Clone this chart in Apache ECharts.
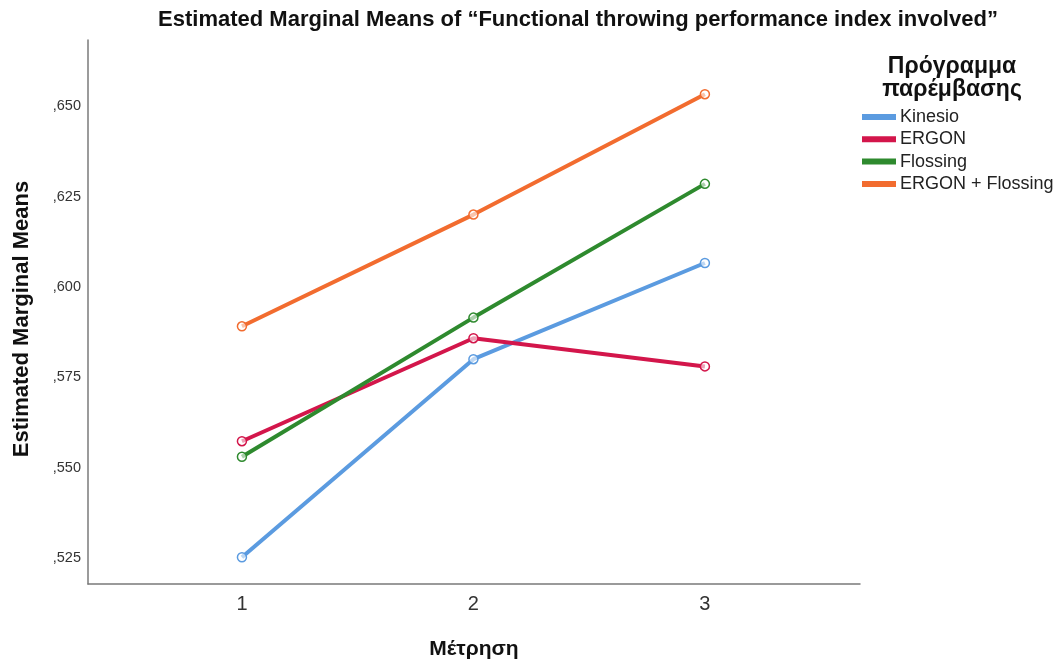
<!DOCTYPE html>
<html>
<head>
<meta charset="utf-8">
<script src="https://cdn.jsdelivr.net/npm/echarts@6/dist/echarts.min.js"></script>
<style>
  html, body { margin: 0; padding: 0; background: #fff; }
  #chart { width: 1056px; height: 664px; }
</style>
</head>
<body>
<div id="chart"></div>
<script>
// Measurement occasions (Μέτρηση)
const occasions = [1, 2, 3];
// Estimated marginal means per intervention programme
const kinesio = [0.5252, 0.5800, 0.6066];
const ergon = [0.5573, 0.5858, 0.5780];
const flossing = [0.5530, 0.5915, 0.6285];
const ergonFlossing = [0.5891, 0.6200, 0.6533];
// Y tick values
const yTicks = [0.525, 0.550, 0.575, 0.600, 0.625, 0.650];

const seriesNames = ['Kinesio', 'ERGON', 'Flossing', 'ERGON + Flossing'];
const seriesValues = [kinesio, ergon, flossing, ergonFlossing];
const colors = ['#5b9be0', '#d3164b', '#2e8a2e', '#f26c2f'];

const font = 'Liberation Sans, Arial, sans-serif';
const chart = echarts.init(document.getElementById('chart'));

chart.setOption({
  animation: false,
  backgroundColor: '#ffffff',
  title: [
    {
      text: 'Estimated Marginal Means of \u201cFunctional throwing performance index involved\u201d',
      left: 578, top: 9, textAlign: 'center', padding: 0,
      textStyle: { fontFamily: font, fontSize: 22, fontWeight: 'bold', color: '#111' }
    },
    {
      text: 'Πρόγραμμα\nπαρέμβασης',
      left: 952, top: 55, textAlign: 'center', padding: 0,
      textStyle: { fontFamily: font, fontSize: 23, fontWeight: 'bold', color: '#111', lineHeight: 23 }
    }
  ],
  legend: {
    orient: 'vertical',
    left: 862, top: 108, padding: 0,
    itemWidth: 32, itemHeight: 4, itemGap: 4.3,
    icon: 'rect',
    data: seriesNames.map((n, i) => ({ name: n, icon: 'rect', itemStyle: { color: colors[i] } })),
    textStyle: { fontFamily: font, fontSize: 18, lineHeight: 18, color: '#222' }
  },
  grid: { left: 88, right: 196, top: 40, bottom: 80, outerBoundsMode: 'none', containLabel: false },
  xAxis: {
    type: 'value',
    min: 0.335, max: 3.67,
    name: 'Μέτρηση',
    nameLocation: 'middle',
    nameGap: 55,
    nameTextStyle: { fontFamily: font, fontSize: 21, fontWeight: 'bold', color: '#111' },
    axisLine: { show: true, lineStyle: { color: '#7a7a7a', width: 1.5 } },
    axisTick: { show: false },
    splitLine: { show: false },
    axisLabel: {
      customValues: occasions,
      fontFamily: font, fontSize: 20, color: '#333', margin: 10,
      formatter: v => String(Math.round(v))
    }
  },
  yAxis: {
    type: 'value',
    min: 0.5178, max: 0.6683,
    name: 'Estimated Marginal Means',
    nameLocation: 'middle',
    nameGap: 55,
    nameTextStyle: { fontFamily: font, fontSize: 22, fontWeight: 'bold', color: '#111', padding: [0, 14, 0, 0] },
    axisLine: { show: true, lineStyle: { color: '#7a7a7a', width: 1.5 } },
    axisTick: { show: false },
    splitLine: { show: false },
    axisLabel: {
      customValues: yTicks,
      fontFamily: font, fontSize: 14.5, color: '#333', margin: 7,
      formatter: v => v.toFixed(3).replace('0.', ',')
    }
  },
  series: seriesNames.map((n, i) => ({
    name: n,
    type: 'line',
    data: occasions.map((x, j) => [x, seriesValues[i][j]]),
    symbol: 'circle',
    symbolSize: 9,
    showAllSymbol: true,
    lineStyle: { color: colors[i], width: 4 },
    itemStyle: { color: 'rgba(255,255,255,0.6)', borderColor: colors[i], borderWidth: 1.5 },
    z: 2 + i
  }))
});
</script>
</body>
</html>
